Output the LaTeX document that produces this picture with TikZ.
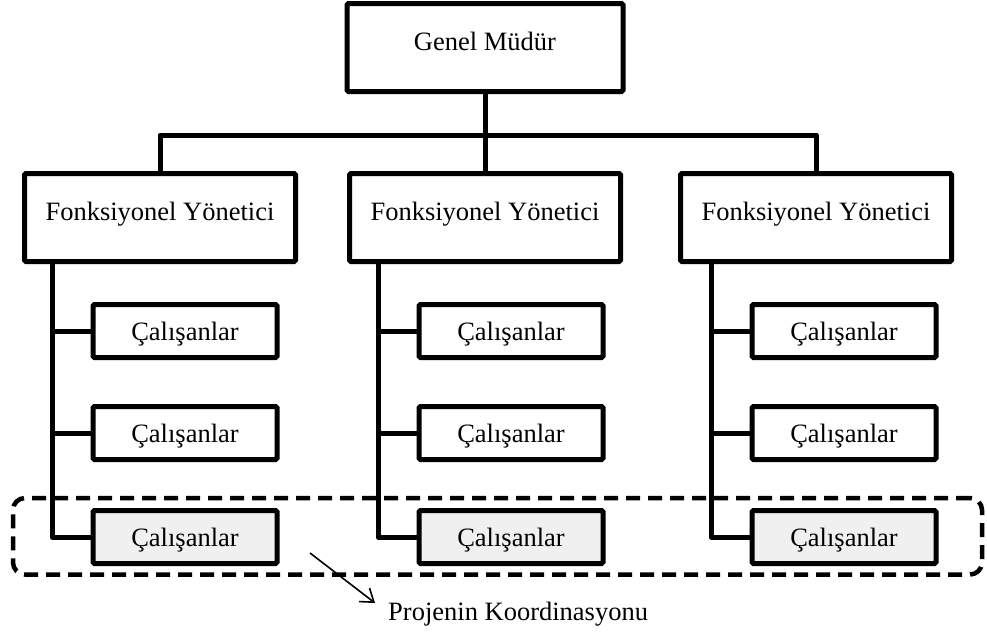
\documentclass[tikz,border=0pt]{standalone}
\usepackage{fontspec}
\setmainfont{Liberation Serif}
\usetikzlibrary{arrows.meta}
\definecolor{empfill}{RGB}{240,240,240}
\begin{document}
\begin{tikzpicture}[x=1pt,y=-1pt,
  every node/.style={font=\fontsize{26.5}{30}\selectfont},
  box/.style={draw, line width=5pt, rounded corners=1.5pt, inner sep=0pt, align=center},
  headtext/.style={text height=18pt, text depth=13pt},
  headbox/.style={box, headtext, minimum width=276pt, minimum height=88pt},
  mgrbox/.style={box, headtext, minimum width=271pt, minimum height=88pt},
  empbox/.style={box, fill=white, text height=19pt, text depth=0pt, minimum width=184pt, minimum height=53pt},
  projbox/.style={empbox, fill=empfill},
  link/.style={line width=5pt, line join=round},
  groupbox/.style={draw, dash pattern=on 14pt off 8pt, line width=4.5pt, rounded corners=12pt, inner sep=0pt, minimum width=969pt, minimum height=76.5pt},
  pointer/.style={line width=1.6pt, -{Straight Barb[length=12pt,width=17pt]}},
]
\useasboundingbox (0,0) rectangle (987,635);

% top of the hierarchy
\node[headbox] (gm) at (485,47.5) {Genel Müdür};

% functional managers with their staff
\foreach \i/\c/\lx/\ex in {1/160/52/185, 2/485/378/511, 3/816/711/844} {
  \node[mgrbox] (fy\i) at (\c,217.5) {Fonksiyonel Yönetici};
  \node[empbox] (emp\i-1) at (\ex,331) {Çalışanlar};
  \node[empbox] (emp\i-2) at (\ex,433) {Çalışanlar};
  \node[projbox] (emp\i-3) at (\ex,537) {Çalışanlar};
  \coordinate (spine\i) at (\lx,217.5);
  \draw[link] (spine\i |- fy\i.south) |- (emp\i-3.west);
  \draw[link] (emp\i-1.west) -- (emp\i-1.west -| spine\i);
  \draw[link] (emp\i-2.west) -- (emp\i-2.west -| spine\i);
}

% bus from the general manager to the functional managers
\coordinate (bus) at (485,135);
\draw[link] (gm.south) -- (fy2.north);
\draw[link] (fy1.north) |- (bus) -| (fy3.north);

% project coordination group
\node[groupbox] (group) at (497.5,536.25) {};
\node[anchor=base west, inner sep=0pt] (proj) at (388,620) {Projenin Koordinasyonu};
\coordinate (ptr) at (310,553);
\draw[pointer] (ptr) -- ([xshift=-13pt,yshift=17pt]proj.base west);
\end{tikzpicture}
\end{document}
